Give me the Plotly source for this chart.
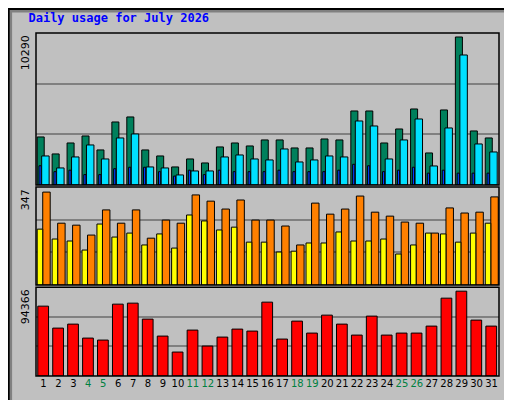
import plotly.graph_objects as go
from plotly.subplots import make_subplots

days = list(range(1, 32))
weekend = [4, 5, 11, 12, 18, 19, 25, 26]

hits = [3250, 2099, 2843, 3317, 2370, 4265, 4604, 2370, 1963, 1219, 1760, 1489, 2573, 2843, 2640, 3047,
        3047, 2505, 2505, 3114, 3047, 5010, 5010, 2843, 3791, 5145, 2166, 5078, 10020, 3656, 3182]
files = [1300, 900, 1000, 700, 700, 1100, 1200, 1200, 900, 600, 1000, 700, 1000, 900, 900, 900,
         1000, 900, 900, 900, 1000, 1400, 1300, 900, 1000, 1200, 800, 1000, 800, 800, 800]
pages = [1963, 1151, 1896, 2708, 1760, 3182, 3453, 1219, 1151, 677, 948, 948, 1896, 2031, 1760, 1693,
         2437, 1557, 1693, 1963, 1896, 4333, 3994, 1760, 3047, 4468, 1286, 3859, 8801, 2776, 2234]
visits = [329, 219, 212, 177, 266, 219, 266, 166, 230, 219, 319, 297, 269, 301, 230, 230,
          209, 142, 290, 251, 269, 315, 258, 244, 223, 219, 184, 273, 255, 258, 312]
sites = [198, 163, 156, 124, 216, 170, 184, 142, 181, 131, 248, 227, 195, 205, 152, 152,
         117, 120, 149, 149, 188, 156, 156, 163, 110, 142, 184, 181, 152, 184, 219]
kbytes = [74200, 50880, 55120, 40280, 38160, 76320, 77380, 60420, 42400, 25440, 48760, 31800, 41340,
          49820, 47700, 78440, 39220, 58300, 45580, 64660, 55120, 43460, 63600, 43460, 45580, 45580,
          53000, 82680, 90100, 59360, 53000]
max_hits, max_visits, max_kb = 10290, 347, 94366

fig = make_subplots(rows=3, cols=1, shared_xaxes=True)
line = dict(color="black", width=1)

def bar(y, color, off, w, row):
    fig.add_trace(go.Bar(x=days, y=y, offset=off, width=w, marker=dict(color=color, line=line),
                         hoverinfo="skip"), row=row, col=1)

bar(hits, "#00805C", -0.42, 0.47, 1)
bar(files, "#0040FF", -0.3, 0.15, 1)
bar(pages, "#00E0FF", -0.12, 0.5, 1)
bar(visits, "#FF8000", -0.05, 0.5, 2)
bar(sites, "#FFFF00", -0.42, 0.37, 2)
bar(kbytes, "#FF0000", -0.38, 0.72, 3)

doms = [[0.557, 1.0], [0.265, 0.551], [0.0, 0.259]]
maxes = [max_hits, max_visits, max_kb]
for i in range(3):
    fig.update_yaxes(row=i + 1, col=1, domain=doms[i], range=[0, maxes[i]],
                     tickvals=[maxes[i] / 3, 2 * maxes[i] / 3], showticklabels=False, automargin=False,
                     gridcolor="#808080", gridwidth=1.5, zeroline=False, fixedrange=True)
    fig.add_shape(type="rect", xref="paper", yref="paper", x0=0, x1=1, y0=doms[i][0], y1=doms[i][1],
                  line=dict(color="black", width=1.5))
    fig.add_annotation(text=str(maxes[i]), xref="paper", yref="paper", x=-0.004, y=doms[i][1],
                       xanchor="right", yanchor="top", textangle=-90, showarrow=False,
                       font=dict(family="DejaVu Sans", size=11, color="black"))

ticktext = [f"<span style='color:#008040'>{d}</span>" if d in weekend else str(d) for d in days]
fig.update_xaxes(range=[0.5, 31.5], showgrid=False, zeroline=False, showticklabels=False, automargin=False)
fig.update_xaxes(row=3, col=1, tickvals=days, ticktext=ticktext, showticklabels=True, ticks="",
                 tickangle=0, tickfont=dict(family="DejaVu Sans", size=10, color="black"))

side = [("<span style='color:#00E0FF'>Pages</span> / <span style='color:#0040FF'>Files</span>"
         " / <span style='color:#00805C'>Hits</span>", 1.0),
        ("<span style='color:#FF8000'>Sites</span> / <span style='color:#FFFF00'>Visits</span>", 0.551),
        ("<span style='color:#FF0000'>KBytes</span>", 0.259)]
for txt, y in side:
    fig.add_annotation(text=txt, xref="paper", yref="paper", x=1.004, y=y, xanchor="left", yanchor="top",
                       textangle=-90, showarrow=False,
                       font=dict(family="DejaVu Sans Mono", size=11, color="black"))

# outer window frame (paper units: 463 px wide, 343 px tall)
fig.add_shape(type="rect", xref="paper", yref="paper", x0=-0.057, x1=1.036, y0=-0.085, y1=1.067,
              line=dict(color="#808080", width=5))
fig.add_shape(type="rect", xref="paper", yref="paper", x0=-0.059, x1=1.043, y0=-0.092, y1=1.07,
              line=dict(color="black", width=2))

fig.update_layout(
    width=512, height=400, margin=dict(l=28, r=21, t=25, b=32, autoexpand=False),
    paper_bgcolor="#C0C0C0", plot_bgcolor="#C0C0C0", barmode="overlay", showlegend=False,
    title=dict(text="<b>Daily usage for July 2026</b>", x=0.04, y=0.985, xanchor="left", yanchor="top",
               font=dict(family="DejaVu Sans Mono", size=12, color="#0000FF")),
)

fig.write_html("out.html")
